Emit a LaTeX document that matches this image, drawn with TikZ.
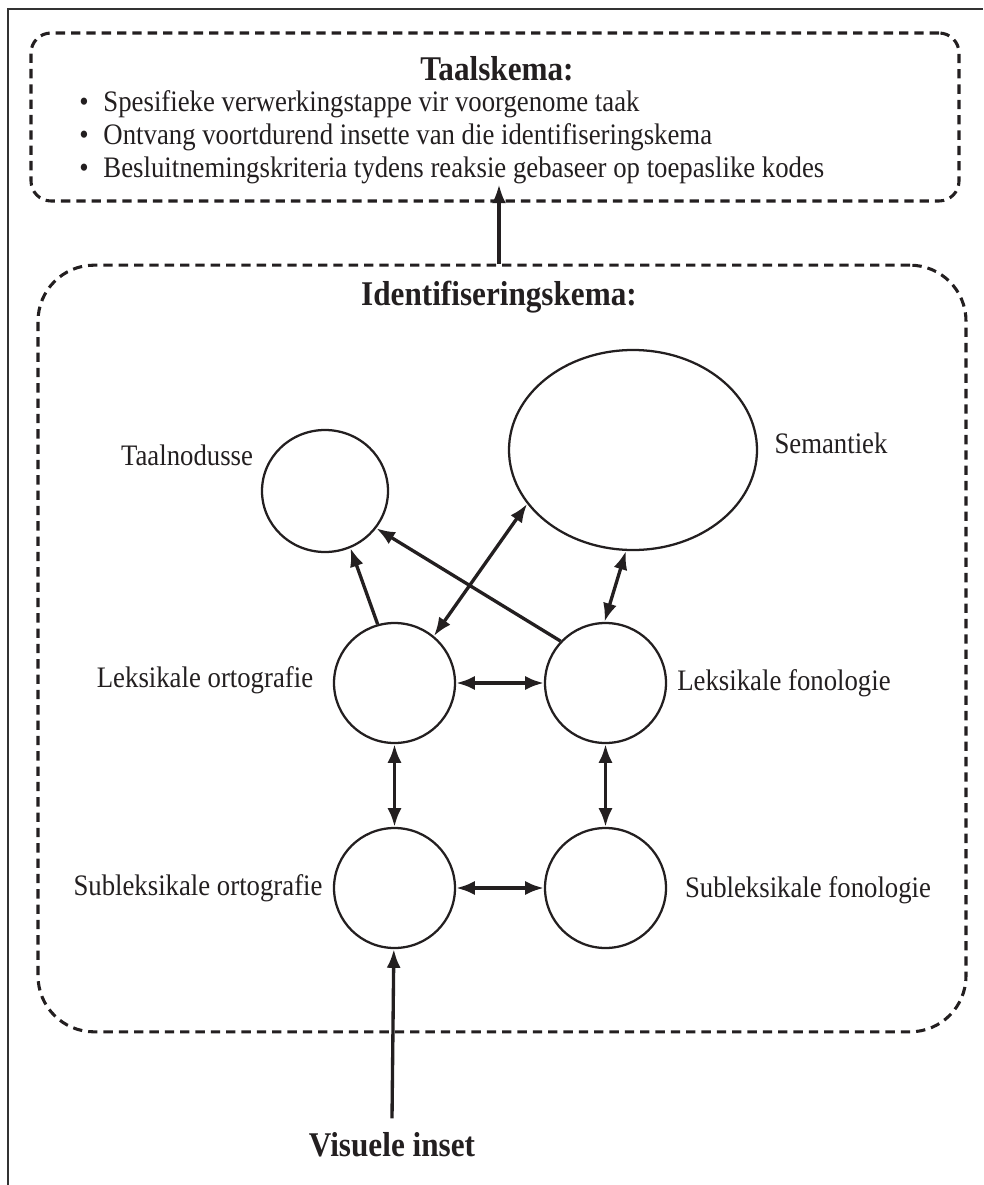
\documentclass[tikz,border=0pt]{standalone}
\usepackage{fontspec}
\setmainfont{Liberation Serif}[FakeStretch=0.9]
\usetikzlibrary{shapes.geometric,arrows.meta,calc}
\definecolor{ink}{HTML}{231F20}
\begin{document}
\begin{tikzpicture}[x=0.75pt,y=-0.75pt,
  circ/.style={draw=ink, line width=1.7pt, ellipse, inner sep=0pt},
  lbl/.style={font=\fontsize{22.3}{26}\selectfont, inner sep=0pt, text=ink},
  ttl/.style={font=\fontsize{26}{30}\selectfont\bfseries, inner sep=0pt, text=ink},
  dbox/.style={draw=ink, line width=2.3pt, dash pattern=on 7pt off 4.5pt, inner sep=0pt},
  arr/.style={draw=ink, line width=2.5pt, -{Latex[length=14pt,width=10.5pt]}},
  barr/.style={draw=ink, line width=2.5pt, {Latex[length=14pt,width=10.5pt]}-{Latex[length=14pt,width=10.5pt]}},
]
\useasboundingbox (0,0) rectangle (983,1185);
% outer frame (left and top edges)
\draw[line width=2.2pt, color=black!80] (8,1185) -- (8,9) -- (983,9);

% boxes
\node[dbox, rounded corners=15pt, minimum width=696pt, minimum height=126pt] (tbox) at (495,117) {};
\node[dbox, rounded corners=42pt, minimum width=696pt, minimum height=575pt] (ibox) at (502,648.5) {};

% top box text
\node[ttl] (tt) at (497,69) {Taalskema:};
\node[lbl, anchor=base west] (b1) at (79,111) {\textbullet\enspace Spesifieke verwerkingstappe vir voorgenome taak};
\node[lbl, anchor=base west] (b2) at (79,144) {\textbullet\enspace Ontvang voortdurend insette van die identifiseringskema};
\node[lbl, anchor=base west] (b3) at (79,177) {\textbullet\enspace Besluitnemingskriteria tydens reaksie gebaseer op toepaslike kodes};

% identification schema
\node[ttl] (idt) at (499,297) {Identifiseringskema:};

\node[circ, minimum width=94.5pt, minimum height=91.5pt] (tn) at (325,491) {};
\node[circ, minimum width=186pt, minimum height=150pt] (sem) at (633,450) {};
\node[circ, minimum width=90.75pt, minimum height=90pt] (lo) at (394.5,683) {};
\node[circ, minimum width=90.75pt, minimum height=90pt] (lf) at (605.5,683) {};
\node[circ, minimum width=90.75pt, minimum height=90pt] (so) at (394.5,888) {};
\node[circ, minimum width=90.75pt, minimum height=90pt] (sf) at (605.5,888) {};

\node[lbl] (tnl) at (187,455) {Taalnodusse};
\node[lbl] (seml) at (831,443) {Semantiek};
\node[lbl] (lol) at (205,680) {Leksikale ortografie};
\node[lbl] (lfl) at (784,683) {Leksikale fonologie};
\node[lbl] (sol) at (198,888) {Subleksikale ortografie};
\node[lbl] (sfl) at (808,890) {Subleksikale fonologie};

\node[ttl] (vi) at (392,1145) {Visuele inset};

% connectors
\draw[arr] (lo.106) -- (tn.-66);
\draw[arr] (lf.137) -- (tn.-36);
\draw[barr] (lo.50) -- (sem.-153);
\draw[barr] (sem.-94) -- (lf.91);
\draw[barr] (lo) -- (lf);
\draw[barr] (so) -- (sf);
\draw[barr] (lo) -- (so);
\draw[barr] (lf) -- (sf);
\coordinate (vitop) at ($(vi.north)+(0,-14)$);
\draw[arr] (vitop) -- (so);
\draw[arr] (ibox.north -| idt) -- ($(tbox.south -| idt)+(0,-18)$);
\end{tikzpicture}
\end{document}
